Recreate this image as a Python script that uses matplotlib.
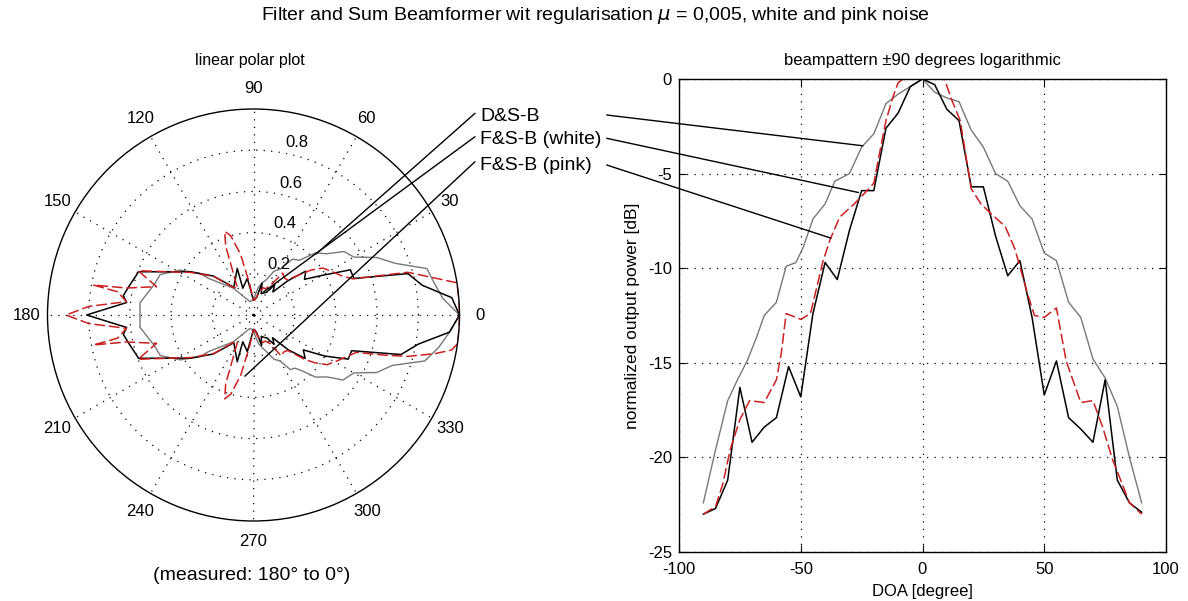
import numpy as np
import matplotlib
matplotlib.use("Agg")
import matplotlib.pyplot as plt

plt.rcParams['font.family'] = ['Liberation Sans', 'DejaVu Sans']
plt.rcParams['axes.unicode_minus'] = False

# ---------------- data ----------------
# log beampattern, DOA in degrees, normalized output power in dB
doa_ds = [-90, -85, -80, -76, -72, -68, -65, -60, -56, -52, -49, -45, -40, -36, -30,
          -25, -20, -15, -10, -5, 0, 5, 10, 15, 20, 25, 30, 35, 40, 45, 50, 55, 60,
          65, 70, 75, 80, 85, 90]
db_ds = [-22.4, -19.6, -17.0, -15.9, -14.9, -13.6, -12.5, -11.8, -9.9, -9.7, -8.9,
         -7.4, -6.6, -5.4, -5.0, -3.6, -2.9, -1.3, -0.8, -0.4, 0.0, -0.7, -1.0, -1.2,
         -2.7, -3.6, -5.0, -5.4, -6.7, -7.4, -9.2, -9.6, -11.8, -12.6, -14.8, -15.8,
         -17.3, -20.0, -22.4]

doa_white = [-90, -85, -80, -75, -70, -65, -60, -55, -50, -45, -40, -35, -30, -25,
             -20, -15, -10, -5, 0, 5, 10, 15, 20, 25, 30, 35, 40, 45, 50, 55, 60, 65,
             70, 75, 80, 85, 90]
db_white = [-23.0, -22.7, -21.2, -16.3, -19.2, -18.4, -17.9, -15.2, -16.8, -12.4,
            -9.7, -10.6, -8.0, -5.9, -5.9, -2.6, -1.8, -0.4, 0.0, -0.3, -1.6, -2.2,
            -5.7, -5.7, -8.3, -10.4, -9.6, -12.6, -16.7, -14.9, -17.9, -18.5, -19.2,
            -15.9, -21.2, -22.4, -22.9]

doa_pink = [-90, -85, -82, -79, -75, -71, -65, -60, -58, -56, -50, -46, -41, -38, -34,
            -28, -22, -20, -17, -15, -12, -10, -8, -4, 0, 4, 9, 12, 15.5, 20, 24, 28,
            34, 38, 43, 46, 50, 55, 59, 65, 70, 74, 78, 82, 85, 90]
db_pink = [-23.0, -22.6, -21.4, -19.6, -18.0, -17.0, -17.1, -15.9, -14.5, -12.4,
           -12.7, -12.4, -9.7, -8.5, -7.3, -6.6, -5.8, -5.5, -3.5, -2.2, -0.9, -0.2,
           0.0, 0.0, 0.0, 0.0, 0.0, -1.1, -2.2, -5.8, -6.6, -7.1, -7.8, -9.0, -11.3,
           -12.5, -12.6, -12.1, -14.9, -17.1, -17.0, -18.4, -20.1, -21.4, -22.4, -23.0]

# rear half of the linear polar plot (angle in degrees, linear magnitude)
rear_theta_ds = [90, 104.7, 127, 140.9, 142.2, 148.5, 156.6, 162.6, 173.8, 180,
                 186.2, 197.4, 203.4, 211.5, 217.8, 219.1, 233, 255.3, 270]
rear_r_ds = [0.076, 0.067, 0.163, 0.282, 0.329, 0.417, 0.494, 0.503, 0.554, 0.551,
             0.554, 0.503, 0.494, 0.417, 0.329, 0.282, 0.163, 0.067, 0.076]

rear_theta_white = [90, 99.6, 111.8, 109.2, 125.3, 135.9, 145.7, 150.6, 159.4, 161,
                    167, 171.5, 174.4, 180, 185.6, 188.5, 193, 199, 200.6, 209.4,
                    214.3, 224.1, 234.7, 250.8, 248.2, 260.4, 270]
rear_r_white = [0.072, 0.18, 0.14, 0.24, 0.165, 0.272, 0.373, 0.427, 0.597, 0.60,
                0.62, 0.639, 0.619, 0.81, 0.619, 0.639, 0.62, 0.60, 0.597, 0.427,
                0.373, 0.272, 0.165, 0.24, 0.14, 0.18, 0.071]

rear_theta_pink = [90, 97, 102, 106, 109, 112, 116, 121, 127, 136, 146, 151, 159,
                   163.7, 168, 169.4, 170.3, 174, 177, 180, 183, 186, 189.7, 190.6,
                   192, 196.3, 201, 209, 214, 224, 233, 239, 244, 248, 251, 254,
                   258, 263, 270]
rear_r_pink = [0.071, 0.15, 0.30, 0.40, 0.43, 0.36, 0.22, 0.15, 0.17, 0.27, 0.37,
               0.43, 0.60, 0.49, 0.63, 0.79, 0.67, 0.62, 0.80, 0.91, 0.80, 0.62,
               0.67, 0.79, 0.63, 0.49, 0.60, 0.43, 0.37, 0.27, 0.17, 0.15, 0.22,
               0.36, 0.43, 0.40, 0.30, 0.15, 0.071]

labels = ['D&S-B', 'F&S-B (white)', 'F&S-B (pink)']
angle_ticks = list(range(0, 360, 30))
r_ticks = [0.2, 0.4, 0.6, 0.8, 1.0]
x_ticks = [-100, -50, 0, 50, 100]
y_ticks = [-25, -20, -15, -10, -5, 0]

# ---------------- styles ----------------
W, H = 1188, 601
grey = (0.47, 0.47, 0.47)
red = (0.80, 0.13, 0.13)
dash = (0, (7, 2.5))
dotted = (0, (1, 5))

fig = plt.figure(figsize=(W / 100, H / 100), dpi=100)

def fx(px):
    return px / W

def fy(py):
    return 1 - py / H

# ---------------- polar plot ----------------
cx, cy, R = 253.5, 315, 206
axp = fig.add_axes([fx(cx - R), fy(cy + R), 2 * R / W, 2 * R / H], projection='polar')
axp.set_ylim(0, 1)
axp.set_rticks(r_ticks[:-1])
axp.set_yticklabels([])
axp.set_thetagrids(angle_ticks, labels=[''] * len(angle_ticks))
axp.grid(True, color='k', linestyle=dotted, linewidth=0.9)
axp.spines['polar'].set_linewidth(1.0)

def polar_series(doa, db, rt, rr):
    th = np.deg2rad(np.concatenate([np.asarray(doa, float), np.asarray(rt, float)]))
    r = np.concatenate([10 ** (np.asarray(db, float) / 20), np.asarray(rr, float)])
    return th, r

th, r = polar_series(doa_ds, db_ds, rear_theta_ds, rear_r_ds)
axp.plot(th, r, color=grey, lw=1.0)
th, r = polar_series(doa_white, db_white, rear_theta_white, rear_r_white)
axp.plot(th, r, color='k', lw=1.1)
th, r = polar_series(doa_pink, db_pink, rear_theta_pink, rear_r_pink)
axp.plot(th, r, color=red, lw=1.1, linestyle=dash)

for a in angle_ticks:
    axp.text(np.deg2rad(a), 1.1, str(a), ha='center', va='center', fontsize=12)
for rr in r_ticks:
    axp.annotate(f'{rr:g}', xy=(np.deg2rad(82), rr + 0.01), xytext=(6, 0),
                 textcoords='offset points', ha='left', va='bottom', fontsize=12)

fig.text(fx(250), fy(60), 'linear polar plot', ha='center', va='center', fontsize=11.5)
fig.text(fx(252), fy(575), '(measured: 180° to 0°)', ha='center', va='center', fontsize=14)

# ---------------- log beampattern ----------------
ax = fig.add_axes([fx(679), fy(552), (1166 - 679) / W, (552 - 79) / H])
ax.plot(doa_ds, db_ds, color=grey, lw=1.0)
ax.plot(doa_white, db_white, color='k', lw=1.1)
ax.plot(doa_pink, db_pink, color=red, lw=1.1, linestyle=dash)
ax.set_xlim(-100, 100)
ax.set_ylim(-25, 0)
ax.set_xticks(x_ticks)
ax.set_yticks(y_ticks)
ax.grid(True, color='k', linestyle=dotted, linewidth=0.9)
ax.tick_params(direction='in', top=True, right=True, length=5, labelsize=12)
ax.tick_params(axis='x', pad=7)
ax.tick_params(axis='y', pad=5)
for s in ax.spines.values():
    s.set_linewidth(1.0)
ax.set_xlabel('DOA [degree]', fontsize=12, labelpad=5)
ax.set_ylabel('normalized output power [dB]', fontsize=12.5, labelpad=6)
fig.text(fx(922.5), fy(60), 'beampattern ±90 degrees logarithmic', ha='center',
         va='center', fontsize=12)

# ---------------- legend with leader lines ----------------
text_y = [116.7, 140, 165]
polar_targets = [(44.3, 0.424), (66.6, 0.121), (262, 0.30)]
log_targets = [(-24.5, -3.53), (-26.3, -6.0), (-37.6, -8.41)]
left_start_y = [113.3, 136.7, 161.7]
right_start_y = [115, 138.3, 165]
for i, lab in enumerate(labels):
    fig.text(fx(480), fy(text_y[i]), lab, ha='left', va='center', fontsize=14)
    t, rr = polar_targets[i]
    axp.annotate('', xy=(np.deg2rad(t), rr), xycoords='data',
                 xytext=(fx(475), fy(left_start_y[i])), textcoords='figure fraction',
                 arrowprops=dict(arrowstyle='-', color='k', lw=1.0, shrinkA=0, shrinkB=0))
    xx, yy = log_targets[i]
    ax.annotate('', xy=(xx, yy), xycoords='data',
                xytext=(fx(606.7), fy(right_start_y[i])), textcoords='figure fraction',
                arrowprops=dict(arrowstyle='-', color='k', lw=1.0, shrinkA=0, shrinkB=0))

fig.text(fx(595), fy(15), r'Filter and Sum Beamformer wit regularisation $\mu$ = 0,005, white and pink noise',
         ha='center', va='center', fontsize=14)

fig.savefig('out.png', dpi=100)
